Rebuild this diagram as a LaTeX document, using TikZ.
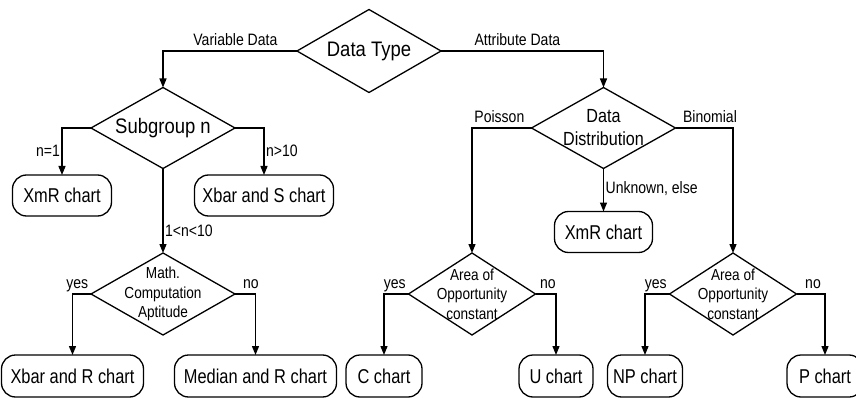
\documentclass[tikz,border=0pt]{standalone}
\usepackage{fontspec}
\setmainfont{Liberation Sans}
\newfontfamily\fntbig{Liberation Sans}[FakeStretch=0.88]
\newfontfamily\fntbx{Liberation Sans}[FakeStretch=0.82]
\newfontfamily\fntlb{Liberation Sans}[FakeStretch=0.85]
\usetikzlibrary{shapes.geometric,arrows.meta}
\begin{document}
\begin{tikzpicture}[x=1pt,y=-1pt,line width=1.3pt,
  dia/.style={draw,diamond,inner sep=0pt,outer sep=0pt},
  bigtxt/.style={font=\fntbig\fontsize{21}{25}\selectfont,inner sep=0pt},
  midtxt/.style={font=\fntlb\fontsize{19}{23}\selectfont,align=center,inner sep=0pt},
  smtxt/.style={font=\fntlb\fontsize{16}{19.5}\selectfont,align=center,inner sep=0pt},
  chart/.style={draw,rectangle,rounded corners=14pt,inner sep=0pt,outer sep=0pt,
    minimum height=42pt,font=\fntbx\fontsize{20}{24}\selectfont},
  arr/.style={-{Triangle[length=9pt,width=7pt]}},
  lbl/.style={font=\fntlb\fontsize{16.5}{20}\selectfont,inner sep=1.5pt,text depth=3pt},
  ]
\useasboundingbox (0,0) rectangle (856,398);
\clip (0,0) rectangle (856,398);
\fill[white] (0,0) rectangle (856,398);

% diamonds
\node[dia,minimum width=144pt,minimum height=83pt,label={[bigtxt]center:Data Type}] (dt) at (369,51) {};
\node[dia,minimum width=144pt,minimum height=81pt,label={[bigtxt]center:Subgroup n}] (sg) at (163,128) {};
\node[dia,minimum width=144pt,minimum height=82pt,label={[smtxt]center:{Math.\\Computation\\Aptitude}}] (math) at (163,294) {};
\node[dia,minimum width=144pt,minimum height=81pt,label={[midtxt]center:{Data\\Distribution}}] (dd) at (603.5,128) {};
\node[dia,minimum width=127pt,minimum height=82pt,label={[smtxt]center:{Area of\\Opportunity\\constant}}] (a1) at (472,294) {};
\node[dia,minimum width=127pt,minimum height=82pt,label={[smtxt]center:{Area of\\Opportunity\\constant}}] (a2) at (733,294) {};

% charts
\node[chart,minimum width=99pt,minimum height=41pt] (xmr1) at (62,195.5) {XmR chart};
\node[chart,minimum width=139pt,minimum height=41pt] (xbs) at (264,195.5) {Xbar and S chart};
\node[chart,minimum width=98pt,minimum height=41pt] (xmr2) at (603.5,232) {XmR chart};
\node[chart,minimum width=142pt] (xbr) at (72.5,376) {Xbar and R chart};
\node[chart,minimum width=162pt] (med) at (255.5,376) {Median and R chart};
\node[chart,minimum width=76pt] (cch) at (384,376) {C chart};
\node[chart,minimum width=74pt] (uch) at (556,376) {U chart};
\node[chart,minimum width=75pt] (np) at (645,376) {NP chart};
\node[chart,minimum width=76pt] (pch) at (825,376) {P chart};

% connectors
\draw[arr] (dt.west) -| (sg.north) node[lbl,pos=0.23,above] {Variable Data};
\draw[arr] (dt.east) -| (dd.north) node[lbl,pos=0.235,above] {Attribute Data};
\draw[arr] (sg.west) -| (xmr1.north) node[lbl,pos=0.755,left] {n=1};
\draw[arr] (sg.east) -| (xbs.north) node[lbl,pos=0.755,right] {n>10};
\draw[arr] (sg.south) -- (math.north) node[lbl,pos=0.75,right] {1<n<10};
\draw[arr] (math.west) -| (xbr.north) node[lbl,pos=0.37,above] {yes};
\draw[arr] (math.east) -| (med.north) node[lbl,pos=0.39,above] {no};
\draw[arr] (dd.west) -| (a1.north) node[lbl,pos=0.27,above] {Poisson};
\draw[arr] (dd.east) -| (a2.north) node[lbl,pos=0.3,above] {Binomial};
\draw[arr] (dd.south) -- (xmr2.north) node[lbl,pos=0.47,right] {Unknown, else};
\draw[arr] (a1.west) -| (cch.north) node[lbl,pos=0.28,above] {yes};
\draw[arr] (a1.east) -| (uch.north) node[lbl,pos=0.3,above] {no};
\draw[arr] (a2.west) -| (np.north) node[lbl,pos=0.28,above] {yes};
\draw[arr] (a2.east) -| (pch.north) node[lbl,pos=0.29,above] {no};
\end{tikzpicture}
\end{document}
